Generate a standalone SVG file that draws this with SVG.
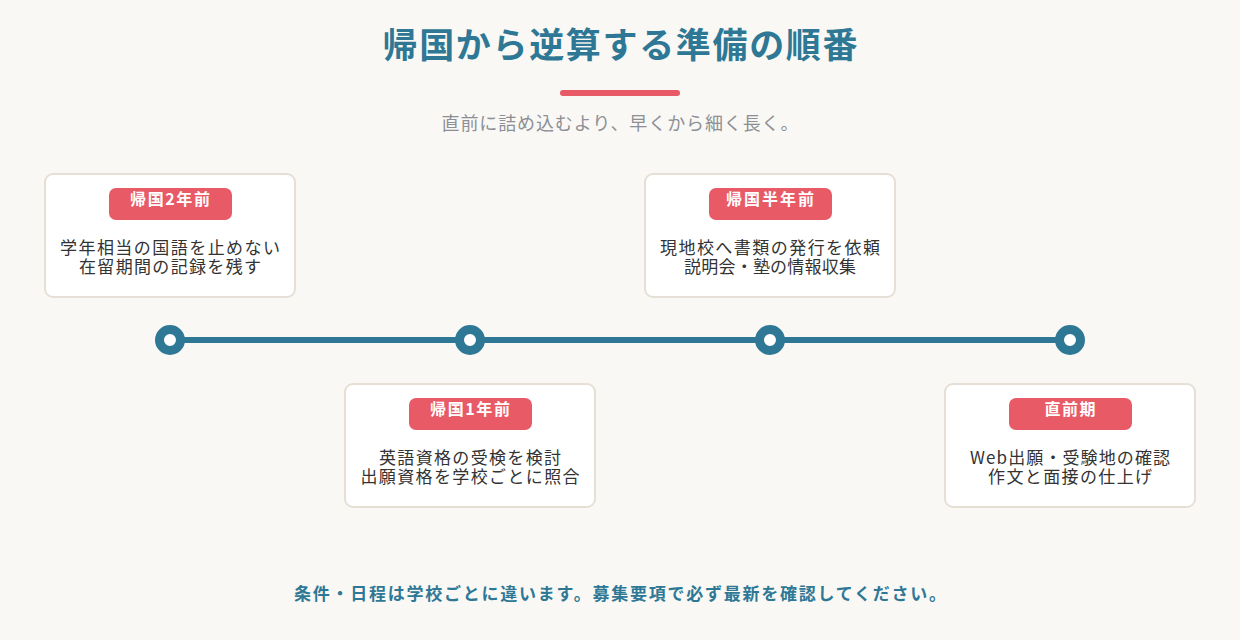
<svg xmlns="http://www.w3.org/2000/svg" width="1240" height="640" viewBox="0 0 1240 640">
<defs>
<style>
.t{font-family:"Noto Sans CJK JP","Noto Sans",sans-serif;text-anchor:middle}
.title{font-size:35px;font-weight:700;fill:#2e7896}
.sub{font-size:18px;fill:#8c9096}
.card{fill:#ffffff;stroke:#e6dfd5;stroke-width:2}
.badge{fill:#e85a66}
.bt{font-size:16px;font-weight:700;fill:#ffffff}
.body{font-size:17px;fill:#333333}
.foot{font-size:17px;font-weight:700;fill:#2e7896}
.dot{fill:#ffffff;stroke:#2e7896;stroke-width:9}
</style>
</defs>
<rect width="1240" height="640" fill="#faf8f4"/>
<text class="t title" x="620" y="58" textLength="475">帰国から逆算する準備の順番</text>
<rect x="560" y="90" width="120" height="6" rx="3" fill="#e85a66"/>
<text class="t sub" x="620" y="130" textLength="357">直前に詰め込むより、早くから細く長く。</text>
<g id="connectors">
<line x1="170" y1="340" x2="1070" y2="340" stroke="#2e7896" stroke-width="6"/>
</g>
<g id="dot1"><circle class="dot" cx="170" cy="340" r="10.5"/></g>
<g id="dot2"><circle class="dot" cx="470" cy="340" r="10.5"/></g>
<g id="dot3"><circle class="dot" cx="770" cy="340" r="10.5"/></g>
<g id="dot4"><circle class="dot" cx="1070" cy="340" r="10.5"/></g>
<g id="card1">
<rect class="card" x="45" y="174" width="250" height="123" rx="8"/>
<rect class="badge" x="109" y="188" width="123" height="32" rx="7"/>
<text class="t bt" x="170" y="205" textLength="80">帰国2年前</text>
<text class="t body" x="170" y="254" textLength="220">学年相当の国語を止めない</text>
<text class="t body" x="170" y="273" textLength="182">在留期間の記録を残す</text>
</g>
<g id="card2">
<rect class="card" x="345" y="384" width="250" height="123" rx="8"/>
<rect class="badge" x="409" y="398" width="123" height="32" rx="7"/>
<text class="t bt" x="470" y="415" textLength="80">帰国1年前</text>
<text class="t body" x="470" y="464" textLength="182">英語資格の受検を検討</text>
<text class="t body" x="470" y="483" textLength="219">出願資格を学校ごとに照合</text>
</g>
<g id="card3">
<rect class="card" x="645" y="174" width="250" height="123" rx="8"/>
<rect class="badge" x="709" y="188" width="123" height="32" rx="7"/>
<text class="t bt" x="770" y="205" textLength="88">帰国半年前</text>
<text class="t body" x="770" y="254" textLength="220">現地校へ書類の発行を依頼</text>
<text class="t body" x="770" y="273" textLength="172">説明会・塾の情報収集</text>
</g>
<g id="card4">
<rect class="card" x="945" y="384" width="250" height="123" rx="8"/>
<rect class="badge" x="1009" y="398" width="123" height="32" rx="7"/>
<text class="t bt" x="1070" y="415" textLength="51">直前期</text>
<text class="t body" x="1070" y="464" textLength="200">Web出願・受験地の確認</text>
<text class="t body" x="1070" y="483" textLength="164">作文と面接の仕上げ</text>
</g>
<text class="t foot" x="620" y="600" textLength="652">条件・日程は学校ごとに違います。募集要項で必ず最新を確認してください。</text>
</svg>
